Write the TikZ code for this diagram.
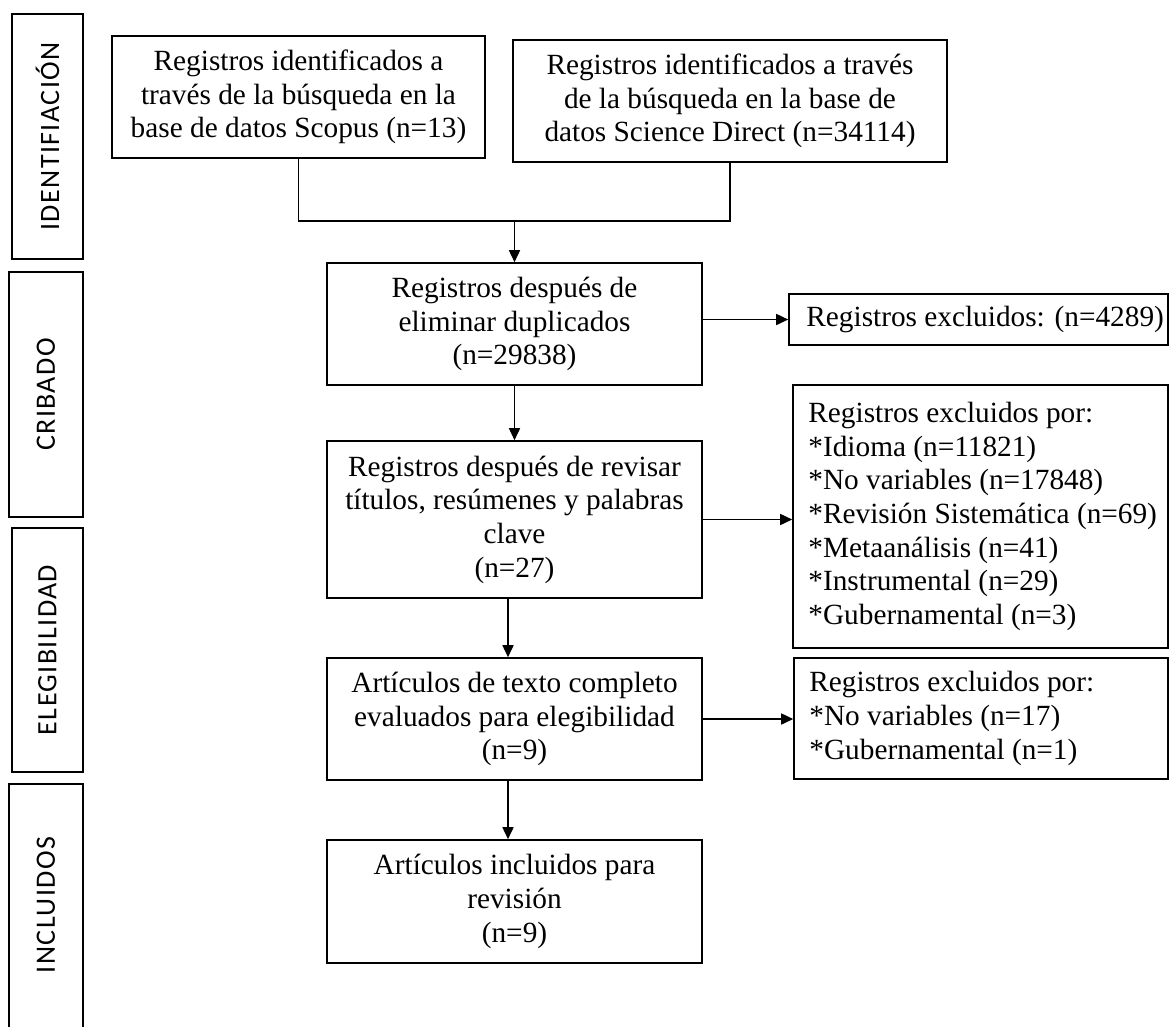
\documentclass[tikz,border=0pt]{standalone}
\usepackage{fontspec}
\setmainfont{Liberation Serif}
\newfontfamily\phasefont{Carlito}[LetterSpace=5]
\usetikzlibrary{arrows.meta}
\begin{document}
\begin{tikzpicture}[x=1pt,y=-1pt,
  lw/.style={line width=1.6pt},
  fbox/.style={draw, lw, inner sep=0pt, align=center, font=\fontsize{29.3}{33.7}\selectfont},
  ebox/.style={draw, lw, inner sep=0pt},
  etext/.style={inner sep=0pt, align=left, anchor=west, font=\fontsize{29.3}{33.7}\selectfont},
  phase/.style={draw, lw, inner sep=0pt, rotate=90, font=\phasefont\fontsize{28}{30}\selectfont},
  phasetext/.style={inner sep=0pt, rotate=90, font=\phasefont\fontsize{28}{30}\selectfont},
  arr/.style={lw, -{Triangle[length=12pt,width=11pt]}},
]
\useasboundingbox (0,0) rectangle (1169,1026);
\clip (0,0) rectangle (1169,1026);

% phase boxes
\node[phase, minimum width=245pt, minimum height=71pt] (p1) at (47.5,136.5) {IDENTIFIACIÓN};
\node[phase, minimum width=245pt, minimum height=74pt] (p2) at (46,394.5) {CRIBADO};
\node[phase, minimum width=244pt, minimum height=71pt] (p3) at (47.5,650) {ELEGIBILIDAD};
\node[phasetext] (p4) at (46,905) {INCLUIDOS};
\draw[lw] (9,1040) -- (9,784) -- (83,784) -- (83,1040);

% main boxes
\node[fbox, minimum width=373pt, minimum height=122pt] (s1) at (298.5,97)
  {Registros identificados a\\través de la búsqueda en la\\base de datos Scopus (n=13)};
\node[fbox, minimum width=434pt, minimum height=122pt] (s2) at (730,101)
  {Registros identificados a través\\de la búsqueda en la base de\\datos Science Direct (n=34114)};
\node[fbox, minimum width=375pt, minimum height=122pt] (dup) at (514.5,324)
  {Registros después de\\eliminar duplicados\\(n=29838)};
\node[fbox, minimum width=375pt, minimum height=157pt] (rev) at (514.5,519.5)
  {Registros después de revisar\\títulos, resúmenes y palabras\\clave\\(n=27)};
\node[fbox, minimum width=375pt, minimum height=122pt] (art) at (514.5,719)
  {Artículos de texto completo\\evaluados para elegibilidad\\(n=9)};
\node[fbox, minimum width=375pt, minimum height=123pt] (inc) at (514.5,901.5)
  {Artículos incluidos para\\revisión\\(n=9)};

% exclusion boxes
\node[ebox, minimum width=379pt, minimum height=51pt] (e1) at (978.5,319.5) {};
\node[etext] (t1) at ([xshift=18pt]e1.west) {Registros excluidos: (n=4289)};
\node[ebox, minimum width=375pt, minimum height=263pt] (e2) at (980.5,516.5) {};
\node[etext] (t2) at ([xshift=16pt]e2.west)
  {Registros excluidos por:\\*Idioma (n=11821)\\*No variables (n=17848)\\*Revisión Sistemática (n=69)\\*Metaanálisis (n=41)\\*Instrumental (n=29)\\*Gubernamental (n=3)};
\node[ebox, minimum width=374pt, minimum height=121pt] (e3) at (981,718.5) {};
\node[etext] (t3) at ([xshift=16pt]e3.west)
  {Registros excluidos por:\\*No variables (n=17)\\*Gubernamental (n=1)};

% connectors
\coordinate (j) at (514.5,221);
\draw[lw] (s1.south) |- (j) -| (s2.south);
\draw[arr] (j) -- (dup.north);
\draw[arr] (dup.south) -- (rev.north);
\draw[arr] ([xshift=-6.5pt]rev.south) -- ([xshift=-6.5pt]art.north);
\draw[arr] ([xshift=-6.5pt]art.south) -- ([xshift=-6.5pt]inc.north);
\draw[arr] (dup.east |- e1.west) -- (e1.west);
\draw[arr] (rev.east) -- (rev.east -| e2.west);
\draw[arr] (art.east) -- (art.east -| e3.west);
\end{tikzpicture}
\end{document}
